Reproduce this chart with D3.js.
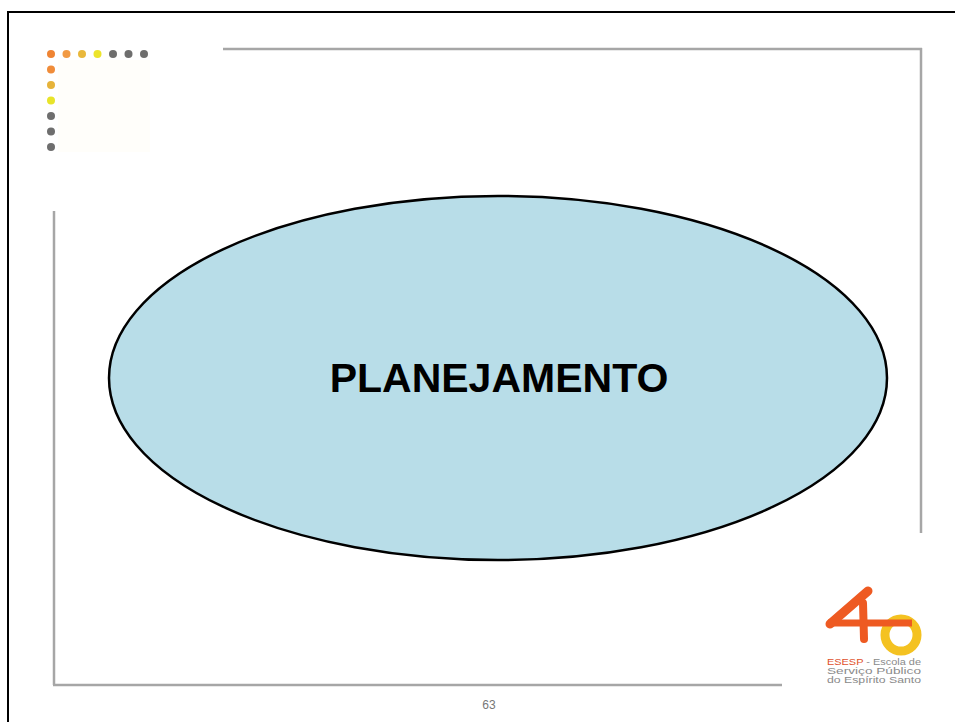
<!DOCTYPE html>
<html>
<head>
<meta charset="utf-8">
<script src="https://cdn.jsdelivr.net/npm/d3@7"></script>
<style>
  body { margin: 0; background: #fff; }
  svg { display: block; }
</style>
</head>
<body>
<div id="slide"></div>
<script>
var svgWidth = 955;
var svgHeight = 722;

// slide content
var title = "PLANEJAMENTO";
var pageNumber = "63";
var rowDotColors = ["#ef8433", "#f19a45", "#e9b83c", "#ece42c", "#6e6e6e", "#6e6e6e", "#6e6e6e"];
var colDotColors = ["#ef8433", "#f08c3a", "#e6b33a", "#e8e42a", "#6e6e6e", "#6e6e6e", "#6e6e6e"];
var logoLines = ["Escola de", "Serviço Público", "do Espírito Santo"];

var svg = d3.select("#slide")
  .append("svg")
  .attr("width", svgWidth)
  .attr("height", svgHeight);

// outer black frame (runs past right and bottom edge)
svg.append("rect")
  .attr("x", 8).attr("y", 12)
  .attr("width", 960).attr("height", 730)
  .attr("fill", "none")
  .attr("stroke", "#000")
  .attr("stroke-width", 2);

// gray frame lines
var gray = "#a6a6a6";
function grayLine(x1, y1, x2, y2) {
  svg.append("line")
    .attr("x1", x1).attr("y1", y1).attr("x2", x2).attr("y2", y2)
    .attr("stroke", gray).attr("stroke-width", 2.5);
}
grayLine(223, 49, 922, 49);
grayLine(921, 48, 921, 533);
grayLine(54, 211, 54, 685);
grayLine(53, 685, 782, 685);

// very faint cream patch behind the dots
svg.append("rect")
  .attr("x", 58).attr("y", 60).attr("width", 92).attr("height", 92)
  .attr("fill", "#fffefa");

// dot pattern, top-left
var dotStep = d3.scaleLinear().domain([0, 6]).range([0, 93]);
svg.selectAll("circle.row")
  .data(rowDotColors)
  .enter()
  .append("circle")
  .attr("class", "row")
  .attr("cx", (d, i) => 51 + dotStep(i))
  .attr("cy", 54)
  .attr("r", 4)
  .attr("fill", d => d);
svg.selectAll("circle.col")
  .data(colDotColors.slice(1))
  .enter()
  .append("circle")
  .attr("class", "col")
  .attr("cx", 51)
  .attr("cy", (d, i) => 54 + dotStep(i + 1))
  .attr("r", 4)
  .attr("fill", d => d);

// the big ellipse
svg.append("ellipse")
  .attr("cx", 498).attr("cy", 378)
  .attr("rx", 389).attr("ry", 182)
  .attr("fill", "#b8dde8")
  .attr("stroke", "#000")
  .attr("stroke-width", 2.5);

svg.append("text")
  .attr("x", 499).attr("y", 392)
  .attr("text-anchor", "middle")
  .attr("font-family", "Liberation Sans, Arial, sans-serif")
  .attr("font-weight", "bold")
  .attr("font-size", "41px")
  .attr("fill", "#000")
  .text(title);

// page number
svg.append("text")
  .attr("x", 489).attr("y", 709)
  .attr("text-anchor", "middle")
  .attr("font-family", "Liberation Sans, Arial, sans-serif")
  .attr("font-size", "12px")
  .attr("fill", "#777")
  .text(pageNumber);

// logo, bottom right
var logo = svg.append("g");
logo.append("circle")
  .attr("cx", 901).attr("cy", 635).attr("r", 16)
  .attr("fill", "none")
  .attr("stroke", "#f4c221")
  .attr("stroke-width", 9);
logo.append("path")
  .attr("d", "M868,591 L830,624")
  .attr("stroke", "#ee5a22").attr("stroke-width", 9).attr("stroke-linecap", "round");
logo.append("path")
  .attr("d", "M828,623 L912,623")
  .attr("stroke", "#ee5a22").attr("stroke-width", 7);
logo.append("path")
  .attr("d", "M863,603 L864,639")
  .attr("stroke", "#ee5a22").attr("stroke-width", 8).attr("stroke-linecap", "round");

var logoText = logo.append("text")
  .attr("x", 827).attr("y", 665)
  .attr("textLength", 94)
  .attr("lengthAdjust", "spacingAndGlyphs")
  .attr("font-family", "Liberation Sans, Arial, sans-serif")
  .attr("font-size", "9px")
  .attr("fill", "#8a8a8a");
logoText.append("tspan").attr("fill", "#e0502a").text("ESESP");
logoText.append("tspan").text(" - " + logoLines[0]);
logoLines.slice(1).forEach(function(t, i) {
  logo.append("text")
    .attr("x", 827).attr("y", 674 + i * 9)
    .attr("textLength", 94)
    .attr("lengthAdjust", "spacingAndGlyphs")
    .attr("font-family", "Liberation Sans, Arial, sans-serif")
    .attr("font-size", "9px")
    .attr("fill", "#8a8a8a")
    .text(t);
});
</script>
</body>
</html>
